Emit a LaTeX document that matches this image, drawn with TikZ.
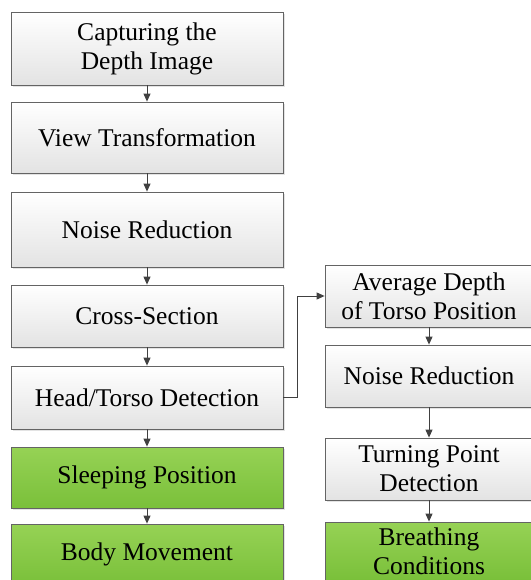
\documentclass[tikz,border=0pt]{standalone}
\usepackage{fontspec}
\setmainfont{Liberation Serif}
\usetikzlibrary{arrows.meta,shadows}

\definecolor{boxline}{RGB}{100,100,100}
\definecolor{greentop}{RGB}{150,210,85}
\definecolor{greenbot}{RGB}{122,192,58}

\tikzset{
    stage/.style={draw=boxline, line width=0.8pt, align=center, inner sep=0pt,
        top color=white, bottom color=black!11,
        drop shadow={shadow xshift=2pt, shadow yshift=-2pt, fill=black!22},
        font=\fontsize{25.5}{29}\selectfont},
    result/.style={stage, top color=greentop, bottom color=greenbot},
    flow/.style={->, draw=black!75, line width=1pt},
    >={Triangle[length=8pt,width=7pt]}
}

\begin{document}
\begin{tikzpicture}[x=1pt,y=-1pt]
    \useasboundingbox (0,0) rectangle (530,580);
    % main column
    \node[stage, minimum width=272pt, minimum height=73pt] (cap) at (147,48.5) {Capturing the\\Depth Image};
    \node[stage, minimum width=272pt, minimum height=71pt] (view) at (147,137.5) {View Transformation};
    \node[stage, minimum width=272pt, minimum height=75pt] (noise) at (147,229.5) {Noise Reduction};
    \node[stage, minimum width=272pt, minimum height=62pt] (cross) at (147,316) {Cross-Section};
    \node[stage, minimum width=272pt, minimum height=63pt] (head) at (147,397.5) {Head/Torso Detection};
    \node[result, minimum width=272pt, minimum height=61pt] (sleep) at (147,477.5) {Sleeping Position};
    \node[result, minimum width=272pt, minimum height=60pt] (body) at (147,554) {Body Movement};
    % breathing branch
    \node[stage, minimum width=208pt, minimum height=62pt] (avg) at (429,296) {Average Depth\\of Torso Position};
    \node[stage, minimum width=208pt, minimum height=62pt] (noise2) at (429,376) {Noise Reduction};
    \node[stage, minimum width=208pt, minimum height=62pt] (turn) at (429,469) {Turning Point\\Detection};
    \node[result, minimum width=208pt, minimum height=58pt] (breath) at (429,551) {Breathing\\Conditions};

    \draw[flow] (cap) -- (view);
    \draw[flow] (view) -- (noise);
    \draw[flow] (noise) -- (cross);
    \draw[flow] (cross) -- (head);
    \draw[flow] (head) -- (sleep);
    \draw[flow] (sleep) -- (body);
    \draw[flow] (head.east) -- ++(14,0) |- (avg.west);
    \draw[flow] (avg) -- (noise2);
    \draw[flow] (noise2) -- (turn);
    \draw[flow] (turn) -- (breath);
\end{tikzpicture}
\end{document}
